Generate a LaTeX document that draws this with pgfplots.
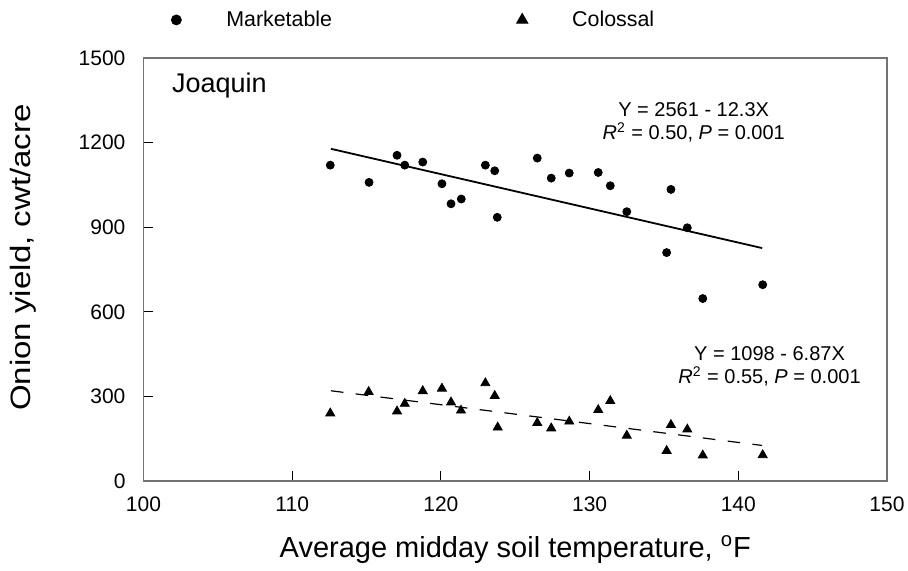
\documentclass[border=0pt]{standalone}
\usepackage{fontspec}
\setmainfont{Liberation Sans}
\usepackage{graphicx}
\usepackage{pgfplots}
\pgfplotsset{compat=1.18}
\pgfplotsset{myleg/.style={legend image code/.code={\path (0cm,0cm) (0.9cm,0cm); \draw[mark repeat=2, mark phase=2, ##1, mark options={scale=1.25}] plot coordinates {(0cm,0cm) (0.1cm,0cm) (0.9cm,0cm)};}}}
\begin{document}
\begin{tikzpicture}
\path[use as bounding box] (-71.75pt,-45pt) rectangle (382.25pt,240.5pt);
\begin{axis}[
  at={(0,0)}, anchor=south west,
  scale only axis, width=371.75pt, height=211.5pt,
  xmin=100, xmax=150, ymin=0, ymax=1500,
  xtick={100,110,...,150}, ytick={0,300,...,1500},
  tick align=inside, xtick pos=bottom, ytick pos=left,
  major tick length=5pt,
  axis line style={black!55, line width=0.6pt},
  tick style={black, line width=0.5pt},
  /pgf/number format/assume math mode=true,
  /pgf/number format/set thousands separator={},
  ticklabel style={font=\fontsize{10.5}{12}\selectfont},
  xticklabel style={yshift=-4.5pt},
  yticklabel style={xshift=-5.5pt},
  xlabel={Average midday soil temperature, \textsuperscript{o}F},
  ylabel={\scalebox{1.18}[1]{Onion yield, cwt/acre}},
  xlabel style={font=\fontsize{14.5}{16}\selectfont, yshift=-5pt},
  ylabel style={font=\fontsize{14}{16}\selectfont, yshift=14.5pt, xshift=6pt},
  legend columns=2,
  legend style={draw=none, fill=none, at={(0.0274,1.090)}, anchor=west,
    font=\fontsize{10.7}{12}\selectfont,
    /tikz/every even column/.append style={column sep=90pt}},
  clip=false,
]
\addplot[only marks, mark=*, mark size=2pt, black, myleg] coordinates {
(112.56,1120) (115.17,1059) (117.05,1155) (117.57,1120) (118.78,1131)
(120.07,1054) (120.68,983) (121.37,1000) (122.99,1120) (123.62,1100)
(123.79,935) (126.48,1145) (127.42,1074) (128.63,1092) (130.58,1094)
(131.39,1047) (132.50,955) (135.18,810) (135.47,1034) (136.57,898)
(137.61,647) (141.64,696)};
\addlegendentry{Marketable}
\addplot[only marks, mark=triangle*, mark size=2.6pt, black, myleg] coordinates {
(112.56,240) (115.14,316) (117.05,247) (117.57,274) (118.78,319)
(120.07,328) (120.68,279) (121.35,250) (122.99,347) (123.62,302)
(123.82,190) (126.48,206) (127.42,187) (128.63,211) (130.58,252)
(131.39,284) (132.50,161) (135.18,107) (135.47,199) (136.57,183)
(137.61,91) (141.64,92)};
\addlegendentry{Colossal}
\addplot[black, line width=0.9pt, forget plot] coordinates {(112.6,1178) (141.6,826)};
\addplot[black, line width=0.6pt, dash pattern=on 6.3pt off 6.2pt, forget plot] coordinates {(112.6,320) (141.6,126)};
\node[anchor=west, font=\fontsize{13.5}{15}\selectfont, inner sep=0pt] at (axis cs:101.9,1404) {Joaquin};
\node[align=center, font=\fontsize{10}{11.5}\selectfont, inner sep=0pt] at (axis cs:137.0,1272) {Y = 2561 - 12.3X\\\textit{R}\textsuperscript{2} = 0.50, \textit{P} = 0.001};
\node[align=center, font=\fontsize{10}{11.5}\selectfont, inner sep=0pt] at (axis cs:142.1,406) {Y = 1098 - 6.87X\\\textit{R}\textsuperscript{2} = 0.55, \textit{P} = 0.001};
\end{axis}
\end{tikzpicture}
\end{document}
